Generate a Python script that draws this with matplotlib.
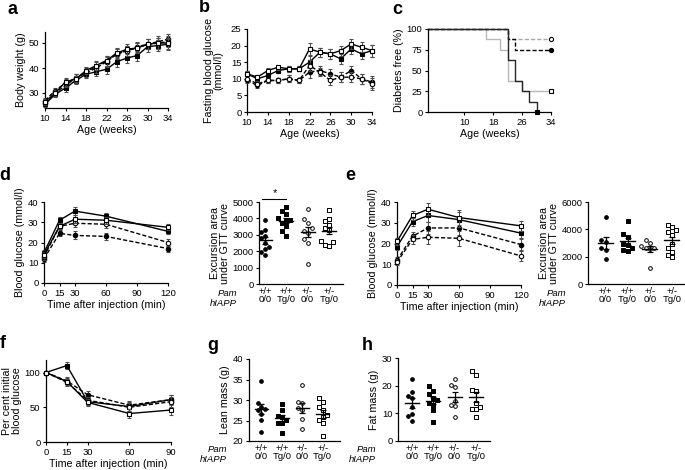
import matplotlib.pyplot as plt
import numpy as np

plt.rcParams['font.family'] = ['Liberation Sans', 'DejaVu Sans']
plt.rcParams['font.size'] = 6.8
plt.rcParams['axes.linewidth'] = 0.9
plt.rcParams['axes.labelpad'] = 2

W, H = 685, 470

# genotype groups: Pam / hIAPP
pam_labels = ["+/+", "+/+", "+/-", "+/-"]
iapp_labels = ["0/0", "Tg/0", "0/0", "Tg/0"]

# a - body weight (g)
weeks = [10, 12, 14, 16, 18, 20, 22, 24, 26, 28, 30, 32, 34]
bw_wt = [26, 30, 33, 36, 38.5, 40.5, 43, 45.5, 47, 48.5, 49.5, 50.5, 51.5]
bw_tg = [25.5, 29.5, 32, 35, 37.5, 38.5, 39.5, 42.5, 44, 45, 48.5, 49, 49.5]
bw_het = [27, 31, 34, 36, 38, 40, 42.5, 45.5, 47, 48, 49.5, 50, 50.5]
bw_hettg = [26.5, 30, 34.5, 35.5, 39, 41, 43, 46, 47.5, 48, 49.5, 50, 50]
bw_err = [1.2, 1.2, 1.5, 1.5, 1.5, 1.8, 2, 2, 2, 2, 2, 2.2, 2.2]

# b - fasting blood glucose (mmol/l)
fbg_wt = [9.5, 8, 9.5, 9.5, 10, 9.5, 12, 12.5, 11.5, 10.5, 12.5, 10, 9]
fbg_tg = [11.5, 10, 11, 12.5, 13, 13, 15, 18, 17.5, 16, 19, 17.5, 18.5]
fbg_het = [10, 8.5, 9.5, 9.5, 10, 9.5, 14, 12, 9.5, 10.5, 10.5, 10, 8.5]
fbg_hettg = [11.5, 10.5, 12.5, 13.5, 13, 13, 19, 18, 17.5, 18.5, 20.5, 19.5, 18.5]
fbg_err = [0.8, 0.7, 0.8, 0.8, 1, 0.8, 1.8, 1.3, 1.5, 1.5, 1.5, 1.5, 1.8]

# c - diabetes free (%), step times
c_wk_wt = [0, 22, 24, 34]
c_free_wt = [100, 87.5, 75, 75]
c_wk_tg = [0, 22, 24, 26, 28, 30]
c_free_tg = [100, 62.5, 37.5, 25, 12.5, 0]
c_wk_het = [0, 22, 34]
c_free_het = [100, 87.5, 87.5]
c_wk_hettg = [0, 16, 20, 22, 26, 34]
c_free_hettg = [100, 87.5, 75, 37.5, 25, 25]

# d / e - GTT blood glucose (mmol/l)
gtt_time = [0, 15, 30, 60, 120]
d_wt = [12, 24.5, 23.5, 23, 17]
d_tg = [15, 31, 35.5, 33, 25.5]
d_het = [13, 28, 29.5, 29, 20]
d_hettg = [14, 28, 31.5, 31, 27.5]
d_err = [1.5, 1.5, 2, 1.8, 1.5]
e_wt = [12, 23.5, 27.5, 27.5, 19.5]
e_tg = [18.5, 30.5, 33.5, 31.5, 25]
e_het = [11, 22, 23, 22.5, 14]
e_hettg = [21, 33.5, 36.5, 32.5, 28.5]
e_err = [1.5, 2, 3, 3.5, 2.5]

# d / e - excursion area under GTT curve
d_auc_wt = [3880, 3270, 3170, 2900, 2780, 2500, 2250, 2150, 1950, 1790]
d_auc_tg = [4715, 4430, 4270, 4020, 3920, 3860, 3720, 3520, 3250, 2950]
d_auc_het = [4590, 3960, 3720, 3410, 3250, 3110, 2740, 2500, 1220]
d_auc_hettg = [4530, 3960, 3820, 3620, 3410, 3310, 2640, 2540, 2400, 2340]
e_auc_wt = [4900, 3200, 3080, 2600, 2480, 1800]
e_auc_tg = [4590, 3690, 3450, 2960, 2840, 2670, 2480, 2400]
e_auc_het = [3200, 3010, 2770, 2670, 2600, 2530, 1190]
e_auc_hettg = [4350, 4180, 3930, 3810, 3570, 2960, 2600, 2360, 2110, 1990]

# f - ITT, per cent initial blood glucose
itt_time = [0, 15, 30, 60, 90]
f_wt = [100, 88, 68, 53, 61]
f_tg = [100, 110, 58, 51, 61]
f_het = [100, 86, 60, 50, 58]
f_hettg = [100, 87, 57, 41, 46]
f_err = [0, 5, 5, 6, 7]

# g / h - body composition (g)
lean_wt = [34.6, 29.2, 28.4, 27.8, 27.6, 26.7, 25.1, 22.3]
lean_tg = [29, 27.6, 26.1, 25.8, 25.1, 24.3, 24.3, 22]
lean_het = [33.7, 29.6, 29.3, 28.1, 27.6, 25.3, 22.9]
lean_hettg = [30.6, 29.6, 28.4, 27.6, 26.3, 25.8, 25.1, 24.3, 21.2]
fat_wt = [22.4, 17.7, 16.1, 15.5, 12.2, 9.8, 9.1, 7.4]
fat_tg = [19.7, 17.9, 17, 15.5, 14.9, 13.9, 13.1, 11.2, 7]
fat_het = [22.4, 20.3, 19.5, 14.6, 13.1, 12.7, 8.8]
fat_hettg = [25.4, 23.7, 18.5, 17.9, 13.9, 12.4, 11.6, 11.6, 8.6]

# style per group: +/+ 0/0, +/+ Tg/0, +/- 0/0, +/- Tg/0
mk = ['o', 's', 'o', 's']
face = ['black', 'black', 'white', 'white']
lsty = ['--', '-', '--', '-']


def box(l, t, r, b):
    return [l / W, 1 - b / H, (r - l) / W, (b - t) / H]


def style(ax):
    for s in ['top', 'right']:
        ax.spines[s].set_visible(False)
    ax.tick_params(direction='out', length=2.5, width=0.8, pad=1.5, labelsize=6.8)


def lines(ax, x, series, errs):
    for i, y in enumerate(series):
        ax.errorbar(x, y, yerr=errs, color='black', ls=lsty[i], lw=1.0,
                    dashes=(3, 1.5) if lsty[i] == '--' else (None, None),
                    marker=mk[i], ms=3.2, mfc=face[i], mec='black', mew=0.8,
                    ecolor='0.3', elinewidth=0.7, capsize=1.5, clip_on=False,
                    zorder=3 + i)


def swarm(vals, dx, dy):
    # simple deterministic beeswarm offsets
    order = np.argsort(vals)
    placed = []
    offs = np.zeros(len(vals))
    for k in order:
        v = vals[k]
        for c in [0, -dx, dx, -2 * dx, 2 * dx, -3 * dx, 3 * dx]:
            if all(abs(v - pv) >= dy or abs(c - po) >= dx * 0.9 for pv, po in placed):
                offs[k] = c
                placed.append((v, c))
                break
    return offs


def dots(ax, groups, ylim, hpx):
    dy = (ylim[1] - ylim[0]) / hpx * 5
    for i, g in enumerate(groups):
        g = np.array(g, dtype=float)
        xo = swarm(g, 0.19, dy)
        ax.scatter(i + 1 + xo, g, marker=mk[i], s=7 if mk[i] == 'o' else 9,
                   facecolor=face[i], edgecolor='black', linewidth=0.7,
                   clip_on=False, zorder=3)
        m = g.mean()
        se = g.std(ddof=1) / np.sqrt(len(g))
        ax.plot([i + 0.67, i + 1.33], [m, m], color='black', lw=1.0, zorder=4)
        ax.errorbar(i + 1, m, yerr=se, color='black', elinewidth=0.9,
                    capsize=2.5, capthick=0.9, zorder=4)
    ax.set_ylim(*ylim)
    ax.set_xticks([1, 2, 3, 4])
    ax.set_xticklabels([p + "\n" + q for p, q in zip(pam_labels, iapp_labels)],
                       linespacing=0.95)
    ax.tick_params(axis='x', length=0, pad=2)
    ax.annotate("Pam", xy=(0, 0), xycoords='axes fraction', xytext=(-22, -9),
                textcoords='offset pixels', ha='right', va='center',
                style='italic', fontsize=6.8)
    ax.annotate("hIAPP", xy=(0, 0), xycoords='axes fraction', xytext=(-22, -19),
                textcoords='offset pixels', ha='right', va='center',
                style='italic', fontsize=6.8)


fig = plt.figure(figsize=(6.85, 4.70), dpi=100)
lab = dict(fontsize=7.7)

# a
ax = fig.add_axes(box(45, 32, 168, 108))
style(ax)
lines(ax, weeks, [bw_wt, bw_tg, bw_het, bw_hettg], bw_err)
ax.set_xlim(10, 34)
ax.set_ylim(24, 54.4)
ax.set_xticks(range(10, 35, 4))
ax.set_yticks([30, 40, 50])
ax.set_xlabel("Age (weeks)", **lab)
ax.set_ylabel("Body weight (g)", **lab)

# b
ax = fig.add_axes(box(247, 29, 372, 112))
style(ax)
lines(ax, weeks, [fbg_wt, fbg_tg, fbg_het, fbg_hettg], fbg_err)
ax.set_xlim(10, 34)
ax.set_ylim(0, 25)
ax.set_xticks(range(10, 35, 4))
ax.set_yticks(range(0, 26, 5))
ax.set_xlabel("Age (weeks)", **lab)
ax.set_ylabel("Fasting blood glucose\n(mmol/l)", linespacing=1.0, labelpad=5, **lab)

# c
ax = fig.add_axes(box(428, 29, 551, 112))
style(ax)
c_sets = [(c_wk_het, c_free_het, '0.65', '--', 'o', 'white'),
          (c_wk_hettg, c_free_hettg, '0.72', '-', 's', 'white'),
          (c_wk_wt, c_free_wt, 'black', '--', 'o', 'black'),
          (c_wk_tg, c_free_tg, '0.15', '-', 's', 'black')]
for xs, ys, col, ls, m, fc in c_sets:
    ax.step(xs, ys, where='post', color=col, ls=ls, lw=1.0, clip_on=False,
            dashes=(3, 1.5) if ls == '--' else (None, None))
    ax.plot(xs[-1], ys[-1], marker=m, ms=3, mfc=fc, mec='black', mew=0.8,
            clip_on=False, zorder=5)
ax.set_xlim(0, 34)
ax.set_ylim(0, 100)
ax.set_xticks([10, 18, 26, 34])
ax.set_yticks([0, 25, 50, 75, 100])
ax.set_xlabel("Age (weeks)", **lab)
ax.set_ylabel("Diabetes free (%)", **lab)

# d
ax = fig.add_axes(box(44, 202, 168, 283))
style(ax)
lines(ax, gtt_time, [d_wt, d_tg, d_het, d_hettg], d_err)
ax.set_xlim(0, 120)
ax.set_ylim(0, 40)
ax.set_xticks([0, 15, 30, 60, 90, 120])
ax.set_yticks(range(0, 41, 10))
ax.set_xlabel("Time after injection (min)", **lab)
ax.set_ylabel("Blood glucose (mmol/l)", **lab)

ax = fig.add_axes(box(259, 202, 343, 284))
style(ax)
dots(ax, [d_auc_wt, d_auc_tg, d_auc_het, d_auc_hettg], (0, 5000), 82)
ax.set_xlim(0.72, 4.66)
ax.set_yticks(range(0, 5001, 1000))
ax.set_ylabel("Excursion area\nunder GTT curve", linespacing=1.0, **lab)
ax.plot([0.85, 2.0], [5180, 5180], color='black', lw=0.8, clip_on=False)
ax.text(1.45, 5230, "*", ha='center', va='bottom', fontsize=8)

# e
ax = fig.add_axes(box(397, 202, 521, 285))
style(ax)
lines(ax, gtt_time, [e_wt, e_tg, e_het, e_hettg], e_err)
ax.set_xlim(0, 120)
ax.set_ylim(0, 40)
ax.set_xticks([0, 15, 30, 60, 90, 120])
ax.set_yticks(range(0, 41, 10))
ax.set_xlabel("Time after injection (min)", **lab)
ax.set_ylabel("Blood glucose (mmol/l)", **lab)

ax = fig.add_axes(box(588, 202, 685, 284))
style(ax)
dots(ax, [e_auc_wt, e_auc_tg, e_auc_het, e_auc_hettg], (0, 6000), 82)
ax.set_xlim(0.2, 4.6)
ax.set_yticks(range(0, 6001, 2000))
ax.set_ylabel("Excursion area\nunder GTT curve", linespacing=1.0, **lab)

# f
ax = fig.add_axes(box(46, 360, 171, 442))
style(ax)
lines(ax, itt_time, [f_wt, f_tg, f_het, f_hettg], f_err)
ax.set_xlim(0, 90)
ax.set_ylim(0, 118)
ax.set_xticks([0, 15, 30, 60, 90])
ax.set_yticks([0, 50, 100])
ax.set_xlabel("Time after injection (min)", **lab)
ax.set_ylabel("Per cent initial\nblood glucose", linespacing=1.0, **lab)

# g
ax = fig.add_axes(box(249, 359, 340, 441))
style(ax)
dots(ax, [lean_wt, lean_tg, lean_het, lean_hettg], (20, 40), 82)
ax.set_xlim(0.39, 4.85)
ax.set_yticks(range(20, 41, 5))
ax.set_ylabel("Lean mass (g)", **lab)

# h
ax = fig.add_axes(box(398, 358, 490, 441))
style(ax)
dots(ax, [fat_wt, fat_tg, fat_het, fat_hettg], (0, 30), 83)
ax.set_xlim(0.33, 4.67)
ax.set_yticks([0, 10, 20, 30])
ax.set_ylabel("Fat mass (g)", **lab)

# panel letters
for t, x, y in [("a", 12, 9), ("b", 204, 8), ("c", 397, 10), ("d", 5, 176),
                ("e", 350, 176), ("f", 3, 344), ("g", 213, 346), ("h", 367, 346)]:
    fig.text(x / W, 1 - y / H, t, fontsize=13, fontweight='bold',
             ha='center', va='center')

fig.savefig("out.png", dpi=100)
